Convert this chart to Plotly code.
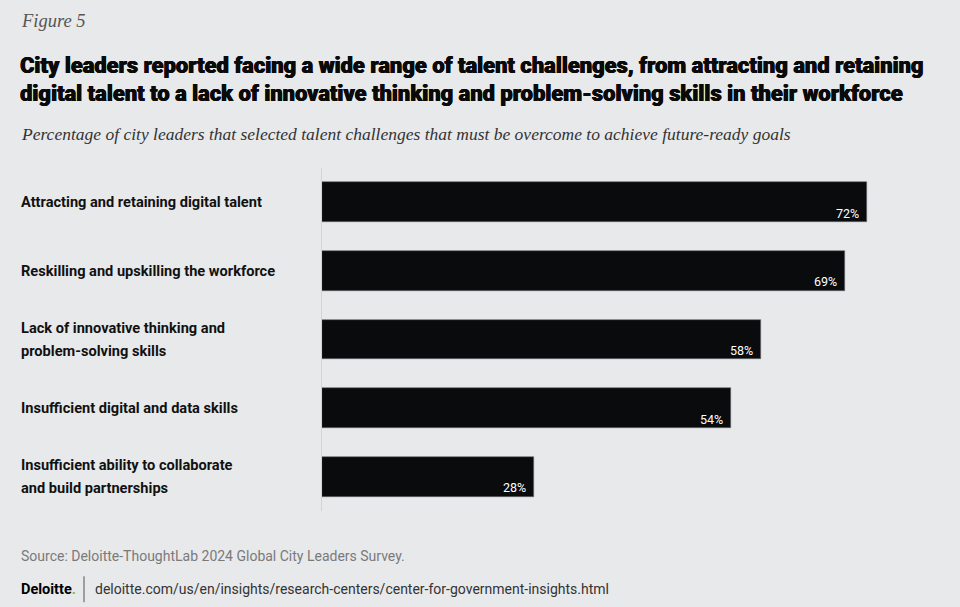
import plotly.graph_objects as go

categories = [
    "Attracting and retaining digital talent",
    "Reskilling and upskilling the workforce",
    "Lack of innovative thinking and<br>problem-solving skills",
    "Insufficient digital and data skills",
    "Insufficient ability to collaborate<br>and build partnerships",
]
values = [72, 69, 58, 54, 28]
value_labels = ["72%", "69%", "58%", "54%", "28%"]

fig_label = "Figure 5"
title_lines = [
    "City leaders reported facing a wide range of talent challenges, from attracting and retaining",
    "digital talent to a lack of innovative thinking and problem-solving skills in their workforce",
]
subtitle = "Percentage of city leaders that selected talent challenges that must be overcome to achieve future-ready goals"
source = "Source: Deloitte-ThoughtLab 2024 Global City Leaders Survey."
url = "deloitte.com/us/en/insights/research-centers/center-for-government-insights.html"

W, H = 960, 607
L, R, T, B = 322, 32, 167.5, 95.5
PW, PH = W - L - R, H - T - B
BG = "#e8e9eb"

def px(x):
    return (x - L) / PW

def py(y):
    return (H - B - y) / PH

fig = go.Figure()
fig.add_trace(go.Bar(
    x=values, y=list(range(len(categories))), orientation="h",
    marker=dict(color="#0a0b0d", line=dict(color="#6b6d70", width=0.6)),
    width=0.58, hoverinfo="skip",
))

ann = []
# category labels
for i, c in enumerate(categories):
    lines = c.split("<br>")
    n = len(lines)
    for j, ln in enumerate(lines):
        ann.append(dict(
            x=px(19), xref="paper", y=i, yref="y", text=ln, showarrow=False,
            xanchor="left", yanchor="middle", yshift=(n - 1) * 11.5 - j * 23,
            font=dict(family="Roboto, Liberation Sans", size=14.6, color="#111", weight="bold"),
        ))
# value labels
for i, (v, t) in enumerate(zip(values, value_labels)):
    ann.append(dict(
        x=v, xref="x", y=i, yref="y", text=t, showarrow=False,
        xanchor="right", yanchor="middle", xshift=-6, yshift=-11,
        font=dict(family="Roboto, Liberation Sans", size=12.5, color="#ffffff"),
    ))

ann.append(dict(x=px(19), xref="paper", y=py(20), yref="paper", text=f"<i>{fig_label}</i>",
                showarrow=False, xanchor="left", yanchor="middle",
                font=dict(family="Liberation Serif, DejaVu Serif", size=18.5, color="#555555")))
for k, tl in enumerate(title_lines):
    ann.append(dict(x=px(18), xref="paper", y=py(65 + 28 * k), yref="paper", text=tl,
                    showarrow=False, xanchor="left", yanchor="middle",
                    font=dict(family="Roboto, Liberation Sans", size=21.9, color="#0a0a0a", weight=900,
                              shadow="0.5px 0 0 #0a0a0a, -0.3px 0 0 #0a0a0a")))
ann.append(dict(x=px(19), xref="paper", y=py(133), yref="paper", text=f"<i>{subtitle}</i>",
                showarrow=False, xanchor="left", yanchor="middle",
                font=dict(family="Liberation Serif, DejaVu Serif", size=17.5, color="#333333")))
ann.append(dict(x=px(19), xref="paper", y=py(557), yref="paper", text=source,
                showarrow=False, xanchor="left", yanchor="middle",
                font=dict(family="Roboto, Liberation Sans", size=14, color="#7a7a7a")))
ann.append(dict(x=px(19), xref="paper", y=py(590), yref="paper",
                text="<b>Deloitte<span style='color:#86BC25'>.</span></b>",
                showarrow=False, xanchor="left", yanchor="middle",
                font=dict(family="Roboto, Liberation Sans", size=14.5, color="#000000")))
ann.append(dict(x=px(93), xref="paper", y=py(590), yref="paper", text=url,
                showarrow=False, xanchor="left", yanchor="middle",
                font=dict(family="Roboto, Liberation Sans", size=14, color="#333333")))

fig.add_shape(type="line", xref="paper", yref="paper", x0=px(84), x1=px(84),
              y0=py(577), y1=py(603), line=dict(color="#555555", width=1))

fig.update_layout(
    width=W, height=H, margin=dict(l=L, r=R, t=T, b=B, pad=0),
    paper_bgcolor=BG, plot_bgcolor=BG, showlegend=False,
    annotations=ann, bargap=0,
    xaxis=dict(range=[0, 80], visible=False, fixedrange=True),
    yaxis=dict(range=[4.5, -0.5], showticklabels=False, showgrid=False, zeroline=False,
               showline=True, linecolor="#d2d3d5", linewidth=1, ticks="", fixedrange=True),
)
fig.write_html("out.html", config={"displayModeBar": False},
               post_script="document.body.style.margin='0';document.body.style.overflow='hidden';document.body.style.background='#e8e9eb';")
